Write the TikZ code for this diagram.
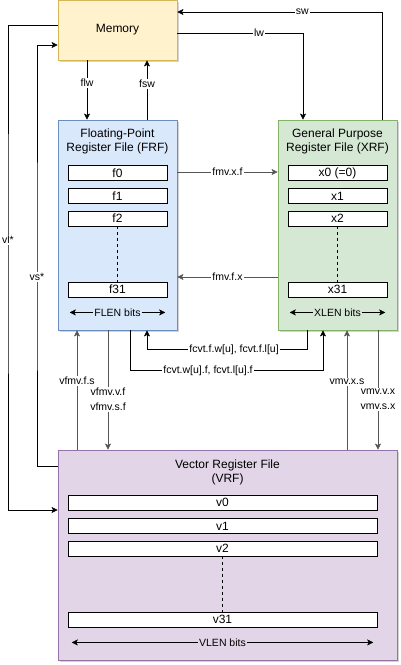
\documentclass[tikz,border=0pt]{standalone}
\usepackage{fontspec}
\setmainfont{Liberation Sans}
\usetikzlibrary{arrows.meta,positioning,shadows}

\definecolor{memfill}{HTML}{FFF2CC}
\definecolor{memline}{HTML}{D6B656}
\definecolor{frffill}{HTML}{DAE8FC}
\definecolor{frfline}{HTML}{6C8EBF}
\definecolor{xrffill}{HTML}{D5E8D4}
\definecolor{xrfline}{HTML}{82B366}
\definecolor{vrffill}{HTML}{E1D5E7}
\definecolor{vrfline}{HTML}{9673A6}
\definecolor{wiregray}{HTML}{555555}

\begin{document}
\begin{tikzpicture}[x=1pt, y=-1pt, >={Stealth[length=6pt,width=6pt,inset=1.5pt]},
      every node/.append style={font=\fontsize{10.5}{15}\selectfont},
      unitbox/.style={draw, minimum width=119pt, line width=0.8pt,
        drop shadow={shadow xshift=2pt, shadow yshift=-2pt, opacity=0.35}},
      filetitle/.style={align=center, inner sep=2pt, font=\fontsize{12}{14}\selectfont},
      reg/.style={draw, fill=white, minimum width=99pt, minimum height=15pt,
        inner sep=0pt, font=\fontsize{12}{14}\selectfont},
      vreg/.style={reg, minimum width=309pt},
      lbl/.style={fill=white, inner sep=1pt},
      wire/.style={draw=wiregray}]
    \useasboundingbox (0,0) rectangle (401,665);

    \node (mem) [unitbox, fill=memfill, draw=memline, minimum height=60pt,
      font=\fontsize{12}{14}\selectfont] at (117.5,30) {Memory};
    \node (frf) [unitbox, fill=frffill, draw=frfline, minimum height=210pt] at (117.5,225) {};
    \node (xrf) [unitbox, fill=xrffill, draw=xrfline, minimum height=210pt] at (337.5,225) {};
    \node (vrf) [unitbox, fill=vrffill, draw=vrfline, minimum width=339pt,
      minimum height=210pt] at (227.5,555) {};

    \node (frftitle) [filetitle, below=7.5pt of frf.north] {Floating-Point\\Register File (FRF)};
    \node (xrftitle) [filetitle, below=7.5pt of xrf.north] {General Purpose\\Register File (XRF)};
    \node (vrftitle) [filetitle, below=7.5pt of vrf.north] {Vector Register File\\(VRF)};

    \node (f0) [reg] at (117.5,173) {f0};
    \node (f1) [reg, below=7.5pt of f0] {f1};
    \node (f2) [reg, below=7pt of f1] {f2};
    \node (f31) [reg, below=56pt of f2] {f31};
    \draw[dashed] (f2) -- (f31);
    \draw[<->] ([shift={(2pt,-15pt)}]f31.south west) -- node[fill=frffill, inner sep=1pt] {FLEN bits}
      ([shift={(-2pt,-15pt)}]f31.south east);

    \node (x0) [reg] at (337.5,173) {x0 (=0)};
    \node (x1) [reg, below=7.5pt of x0] {x1};
    \node (x2) [reg, below=7pt of x1] {x2};
    \node (x31) [reg, below=56pt of x2] {x31};
    \draw[dashed] (x2) -- (x31);
    \draw[<->] ([shift={(2pt,-15pt)}]x31.south west) -- node[fill=xrffill, inner sep=1pt] {XLEN bits}
      ([shift={(-2pt,-15pt)}]x31.south east);

    \node (v0) [vreg] at (222.5,502.5) {v0};
    \node (v1) [vreg, below=8pt of v0] {v1};
    \node (v2) [vreg, below=7pt of v1] {v2};
    \node (v31) [vreg, below=56pt of v2] {v31};
    \draw[dashed] (v2) -- (v31);
    \draw[<->] ([shift={(4pt,-15pt)}]v31.south west) -- node[fill=vrffill, inner sep=1pt] {VLEN bits}
      ([shift={(-4pt,-15pt)}]v31.south east);

    \draw[->] ([xshift=-30.5pt]mem.south) -- node[lbl, pos=0.38] {flw} ([xshift=-30.5pt]frf.north);
    \draw[->] ([xshift=29.5pt]frf.north) -- node[lbl, pos=0.6] {fsw} ([xshift=29.5pt]mem.south);
    \draw[->] ([yshift=-3pt]mem.east) -| node[lbl, pos=0.325] {lw} ([xshift=-34.5pt]xrf.north);
    \draw[->] ([xshift=44.5pt]xrf.north) |- node[lbl, pos=0.695] {sw} ([yshift=18pt]mem.east);

    \coordinate (vlx) at (8,240);
    \coordinate (vsx) at (37,277);
    \draw[->] ([yshift=5pt]mem.west) -| (vlx) node[lbl] {vl*} |- ([yshift=45pt]vrf.west);
    \draw[->] ([yshift=89pt]vrf.west) -| (vsx) node[lbl] {vs*} |- ([yshift=-15pt]mem.west);

    \draw[wire,->] ([yshift=53pt]frf.east) -- node[lbl] {fmv.x.f} ([yshift=53pt]xrf.west);
    \draw[wire,->] ([yshift=-52pt]xrf.west) -- node[lbl] {fmv.f.x} ([yshift=-52pt]frf.east);

    \coordinate (vfs) at ([xshift=-40.5pt]frf.south);
    \coordinate (vvf) at ([xshift=-9.5pt]frf.south);
    \coordinate (cvf) at ([xshift=12.5pt]frf.south);
    \coordinate (cfx) at ([xshift=29.5pt]frf.south);
    \coordinate (cxf) at ([xshift=-30.5pt]xrf.south);
    \coordinate (cwf) at ([xshift=-14.5pt]xrf.south);
    \coordinate (vxs) at ([xshift=9.5pt]xrf.south);
    \coordinate (vvx) at ([xshift=40.5pt]xrf.south);
    \coordinate (fcv1) at ([yshift=-19pt]cfx);
    \coordinate (fcv2) at ([yshift=-40pt]cwf);

    \draw[->] (cxf) |- node[lbl, pos=0.728] {fcvt.f.w[u], fcvt.f.l[u]} (fcv1) -- (cfx);
    \draw[->] (cvf) |- node[lbl, pos=0.702] {fcvt.w[u].f, fcvt.l[u].f} (fcv2) -- (cwf);

    \draw[wire,->] (vfs |- vrf.north) -- node[lbl, pos=0.575] {vfmv.f.s} (vfs);
    \draw[wire,->] (vvf) -- node[lbl, align=center, pos=0.58] {vfmv.v.f\\vfmv.s.f} (vvf |- vrf.north);
    \draw[wire,->] (vxs |- vrf.north) -- node[lbl, pos=0.567] {vmv.x.s} (vxs);
    \draw[wire,->] (vvx) -- node[lbl, align=center, pos=0.58] {vmv.v.x\\vmv.s.x} (vvx |- vrf.north);
  \end{tikzpicture}
\end{document}
